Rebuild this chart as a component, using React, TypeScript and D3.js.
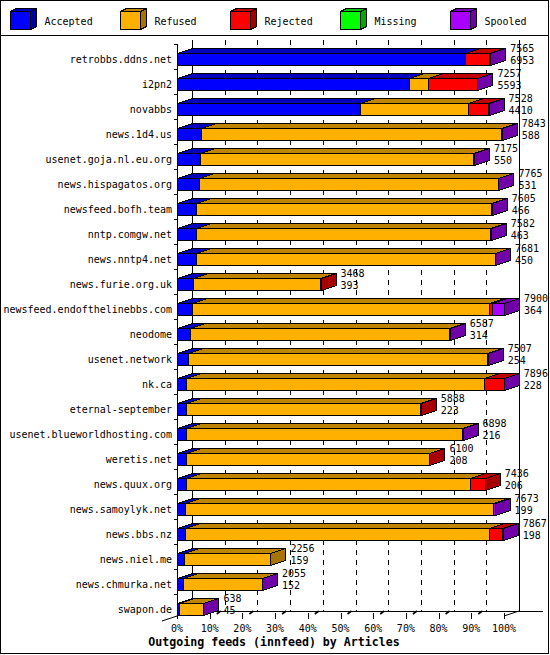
import React, { useLayoutEffect } from "react";
import * as d3 from "d3";

const categories = [
  "retrobbs.ddns.net", "i2pn2", "novabbs", "news.1d4.us", "usenet.goja.nl.eu.org",
  "news.hispagatos.org", "newsfeed.bofh.team", "nntp.comgw.net", "news.nntp4.net",
  "news.furie.org.uk", "newsfeed.endofthelinebbs.com", "neodome", "usenet.network",
  "nk.ca", "eternal-september", "usenet.blueworldhosting.com", "weretis.net",
  "news.quux.org", "news.samoylyk.net", "news.bbs.nz", "news.niel.me",
  "news.chmurka.net", "swapon.de",
];
const totals = [7565, 7257, 7528, 7843, 7175, 7765, 7605, 7582, 7681, 3468, 7900, 6587, 7507, 7896, 5888, 6898, 6100, 7436, 7673, 7867, 2256, 2055, 638];
const accepted = [6953, 5593, 4410, 588, 550, 531, 466, 463, 450, 393, 364, 314, 254, 228, 223, 216, 208, 206, 199, 198, 159, 152, 45];
const refused = [0, 480, 2609, 7247, 6605, 7224, 7129, 7109, 7221, 3055, 7170, 6268, 7228, 7180, 5645, 6662, 5872, 6868, 7434, 7344, 2097, 1898, 590];
const rejected = [576, 1180, 483, 0, 0, 0, 0, 0, 0, 20, 80, 0, 0, 483, 20, 0, 20, 362, 0, 315, 0, 0, 0];
const missing = [0, 0, 0, 0, 0, 0, 0, 0, 0, 0, 0, 0, 0, 0, 0, 0, 0, 0, 0, 0, 0, 0, 0];
const spooled = [36, 4, 26, 8, 20, 10, 10, 10, 10, 0, 286, 5, 25, 5, 0, 20, 0, 0, 40, 10, 0, 5, 3];
const seriesNames = ["Accepted", "Refused", "Rejected", "Missing", "Spooled"];
const seriesValues = [accepted, refused, rejected, missing, spooled];
const tickPercents = [0, 10, 20, 30, 40, 50, 60, 70, 80, 90, 100];
const tickLabels = ["0%", "10%", "20%", "30%", "40%", "50%", "60%", "70%", "80%", "90%", "100%"];
const title = "Outgoing feeds (innfeed) by Articles";

const frontColors = ["#0000ff", "#ffb000", "#ff0000", "#00ff00", "#aa00ff"];
const shade = (c: string, k: number) => {
  const r = d3.rgb(c);
  return d3.rgb(Math.round(r.r * k), Math.round(r.g * k), Math.round(r.b * k)).formatHex();
};
const topColors = frontColors.map((c) => shade(c, 0.75));
const sideColors = frontColors.map((c) => shade(c, 0.66));

const W = 550, H = 655;
const DX = 15, DY = 5;
const BAR_H = 12;
const MONO = "'DejaVu Sans Mono', 'Liberation Mono', monospace";

export default function App() {
  useLayoutEffect(() => {
    document.body.style.margin = "0";
  }, []);

  const maxTotal = d3.max(totals) as number;
  const x = d3.scaleLinear().domain([0, maxTotal]).range([177, 504]);
  const xPct = d3.scaleLinear().domain([0, 100]).range([177, 504]);
  const y = d3.scaleBand<string>().domain(categories).range([44, 44 + 25 * categories.length]);

  const backTop = 40, backBottom = 611, frontTop = 44, frontBottom = 616;
  const px = (v: number) => Math.round(v) + 0.5;

  const bars: React.ReactNode[] = [];
  categories.forEach((cat, i) => {
    const yt = (y(cat) as number) + 9;
    let cum = 0;
    seriesValues.forEach((vals, s) => {
      const v = vals[i];
      if (!(v > 0)) return;
      const x0 = px(x(cum));
      cum += v;
      const x1 = px(x(cum));
      const t = yt + 0.5;
      const b = t + BAR_H;
      bars.push(
        <g key={`${i}-${s}`} stroke="#000" strokeWidth={1} shapeRendering="crispEdges">
          <polygon points={`${x0},${t} ${x1},${t} ${x1 + DX},${t - DY} ${x0 + DX},${t - DY}`} fill={topColors[s]} />
          <polygon points={`${x1},${t} ${x1 + DX},${t - DY} ${x1 + DX},${b - DY} ${x1},${b}`} fill={sideColors[s]} />
          <rect x={x0} y={t} width={Math.max(0, x1 - x0)} height={BAR_H} fill={frontColors[s]} />
        </g>
      );
    });
  });

  return (
    <svg width={W} height={H} style={{ display: "block", background: "#fff" }} fontFamily={MONO}>
      <rect x={0.5} y={0.5} width={W - 2} height={H - 2} fill="#fff" stroke="#000" shapeRendering="crispEdges" />
      <line x1={0} x2={W - 1} y1={35.5} y2={35.5} stroke="#000" shapeRendering="crispEdges" />

      {/* legend */}
      {seriesNames.map((name, s) => {
        const bx = 10.5 + 110 * s, by = 11.5, bw = 20, bh = 18, ldx = 6, ldy = 3;
        return (
          <g key={name}>
            <g stroke="#000" shapeRendering="crispEdges">
              <polygon points={`${bx},${by} ${bx + bw},${by} ${bx + bw + ldx},${by - ldy} ${bx + ldx},${by - ldy}`} fill={topColors[s]} />
              <polygon points={`${bx + bw},${by} ${bx + bw + ldx},${by - ldy} ${bx + bw + ldx},${by + bh - ldy} ${bx + bw},${by + bh}`} fill={sideColors[s]} />
              <rect x={bx} y={by} width={bw} height={bh} fill={frontColors[s]} />
            </g>
            <text x={bx + 34} y={24.5} fontSize={10} fill="#000">{name}</text>
          </g>
        );
      })}

      {/* back grid */}
      {tickPercents.filter((p) => p > 0 && p < 100).map((p) => (
        <line key={p} x1={px(xPct(p) + DX)} x2={px(xPct(p) + DX)} y1={backTop} y2={backBottom}
          stroke="#000" strokeDasharray="5,5" shapeRendering="crispEdges" />
      ))}
      <g stroke="#000" shapeRendering="crispEdges">
        <line x1={px(xPct(0) + DX)} x2={px(xPct(0) + DX)} y1={backTop} y2={backBottom + 0.5} />
        <line x1={px(xPct(100) + DX)} x2={px(xPct(100) + DX)} y1={backTop} y2={backBottom + 0.5} />
        <line x1={px(xPct(0) + DX)} x2={543} y1={backBottom + 0.5} y2={backBottom + 0.5} />
        <line x1={px(xPct(0))} x2={px(xPct(0))} y1={frontTop} y2={frontBottom + 1} />
      </g>
      <line x1={162} y1={621} x2={xPct(0) + DX} y2={backBottom} stroke="#000" />
      <line x1={xPct(100)} y1={frontBottom} x2={xPct(100) + DX} y2={backBottom} stroke="#000" />

      {/* category ticks */}
      {categories.map((c) => (
        <line key={c} x1={174} x2={177} y1={(y(c) as number) + 0.5} y2={(y(c) as number) + 0.5} stroke="#000" shapeRendering="crispEdges" />
      ))}

      {/* value ticks */}
      {tickPercents.map((p) => (
        <g key={p} stroke="#000">
          <line x1={px(xPct(p))} x2={px(xPct(p))} y1={613} y2={619} shapeRendering="crispEdges" />
          {p < 100 && <line x1={xPct(p) + 7} y1={614} x2={xPct(p) + 11} y2={611} strokeWidth={1.6} />}
        </g>
      ))}

      {bars}

      {/* category labels */}
      {categories.map((c) => (
        <text key={c} x={172} y={(y(c) as number) + 19} fontSize={10} textAnchor="end" fill="#000">{c}</text>
      ))}

      {/* value labels */}
      {categories.map((c, i) => {
        const xt = x(totals[i]) + 20;
        const yt = (y(c) as number) + 9;
        return (
          <g key={c} fontSize={10} fill="#000">
            <text x={xt} y={yt - 1.5}>{totals[i]}</text>
            <text x={xt} y={yt + 11}>{accepted[i]}</text>
          </g>
        );
      })}

      {/* tick labels */}
      {tickPercents.map((p, k) => (
        <text key={p} x={xPct(p)} y={632} fontSize={10} textAnchor="middle" fill="#000">{tickLabels[k]}</text>
      ))}

      <text x={274} y={646} fontSize={11.6} fontWeight="bold" textAnchor="middle" fill="#000">{title}</text>
    </svg>
  );
}
